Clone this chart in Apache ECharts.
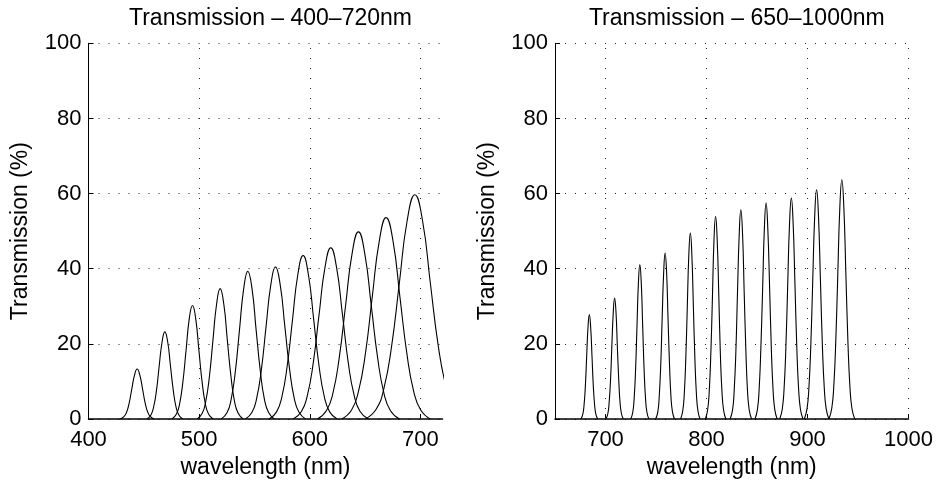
<!DOCTYPE html>
<html>
<head>
<meta charset="utf-8">
<script src="https://cdn.jsdelivr.net/npm/echarts@6/dist/echarts.min.js"></script>
<style>
html,body{margin:0;padding:0;background:#fff;}
#chart{width:936px;height:484px;}
</style>
</head>
<body>
<div id="chart"></div>
<script>
// ---- data ----
const leftTitle = 'Transmission – 400–720nm';
const rightTitle = 'Transmission – 650–1000nm';
const xName = 'wavelength (nm)';
const yName = 'Transmission (%)';

const leftXTicks = [400, 500, 600, 700];
const rightXTicks = [700, 800, 900, 1000];
const yTicks = [0, 20, 40, 60, 80, 100];

// left panel: 11 filter curves, wavelength (nm) / transmission (%) pairs
const leftWavelength = [
  [428.6, 432, 434.4, 436.8, 439.2, 441.6, 444, 446.4, 448.8, 451.2, 453.6, 456, 459.4],
  [452.7, 456.3, 458.8, 461.4, 463.9, 466.5, 469, 471.6, 474.1, 476.7, 479.2, 481.8, 485.3],
  [475.4, 479.5, 482.4, 485.3, 488.2, 491.1, 494, 496.9, 499.8, 502.7, 505.6, 508.5, 512.6],
  [498.2, 502.8, 506, 509.3, 512.5, 515.8, 519, 522.3, 525.5, 528.8, 532, 535.3, 539.8],
  [520, 525.3, 529, 532.8, 536.5, 540.3, 544, 547.8, 551.5, 555.3, 559, 562.8, 568],
  [541.8, 547.8, 552, 556.3, 560.5, 564.8, 569, 573.3, 577.5, 581.8, 586, 590.3, 596.2],
  [563.3, 570, 574.8, 579.6, 584.4, 589.2, 594, 598.8, 603.6, 608.4, 613.2, 618, 624.7],
  [585.1, 592.5, 597.8, 603.1, 608.4, 613.7, 619, 624.3, 629.6, 634.9, 640.2, 645.5, 652.9],
  [606.9, 615, 620.8, 626.6, 632.4, 638.2, 644, 649.8, 655.6, 661.4, 667.2, 673, 681.1],
  [629, 637.8, 644, 650.3, 656.5, 662.8, 669, 675.3, 681.5, 687.8, 694, 700.3, 709],
  [650.2, 660, 667, 674, 681, 688, 695, 702, 709, 716, 723, 730, 739.8]
];
const leftTransmission = [
  [0, 0.6, 1.8, 4.3, 8.1, 11.7, 13.3, 11.7, 8.1, 4.3, 1.8, 0.6, 0],
  [0, 1.0, 3.1, 7.5, 14.1, 20.5, 23.2, 20.5, 14.1, 7.5, 3.1, 1.0, 0],
  [0, 1.3, 4.1, 9.8, 18.3, 26.7, 30.2, 26.7, 18.3, 9.8, 4.1, 1.3, 0],
  [0, 1.5, 4.7, 11.3, 21.0, 30.6, 34.7, 30.6, 21.0, 11.3, 4.7, 1.5, 0],
  [0, 1.7, 5.3, 12.8, 23.8, 34.7, 39.3, 34.7, 23.8, 12.8, 5.3, 1.7, 0],
  [0, 1.8, 5.5, 13.2, 24.6, 35.7, 40.5, 35.7, 24.6, 13.2, 5.5, 1.8, 0],
  [0, 1.9, 5.9, 14.1, 26.4, 38.4, 43.5, 38.4, 26.4, 14.1, 5.9, 1.9, 0],
  [0, 2.0, 6.2, 14.8, 27.7, 40.2, 45.6, 40.2, 27.7, 14.8, 6.2, 2.0, 0],
  [0, 2.2, 6.7, 16.2, 30.2, 43.9, 49.8, 43.9, 30.2, 16.2, 6.7, 2.2, 0],
  [0, 2.4, 7.3, 17.4, 32.5, 47.3, 53.6, 47.3, 32.5, 17.4, 7.3, 2.4, 0],
  [0, 2.6, 8.1, 19.4, 36.2, 52.7, 59.7, 52.7, 36.2, 19.8, 8.8, 2.8, 0]
];

// right panel: 11 filter curves
const rightWavelength = [
  [675.7, 677.5, 678.8, 680.1, 681.4, 682.7, 684, 685.3, 686.6, 687.9, 689.2, 690.5, 692.3],
  [700.4, 702.3, 703.6, 705, 706.3, 707.7, 709, 710.4, 711.7, 713.1, 714.4, 715.8, 717.6],
  [725, 727, 728.4, 729.8, 731.2, 732.6, 734, 735.4, 736.8, 738.2, 739.6, 741, 743],
  [749.7, 751.8, 753.2, 754.7, 756.1, 757.6, 759, 760.5, 761.9, 763.4, 764.8, 766.3, 768.3],
  [774.4, 776.5, 778, 779.5, 781, 782.5, 784, 785.5, 787, 788.5, 790, 791.5, 793.6],
  [798.9, 801.1, 802.7, 804.3, 805.9, 807.4, 809, 810.6, 812.2, 813.7, 815.3, 816.9, 819.1],
  [823.4, 825.8, 827.4, 829.1, 830.7, 832.4, 834, 835.7, 837.3, 839, 840.6, 842.3, 844.6],
  [848, 850.4, 852.1, 853.8, 855.6, 857.3, 859, 860.7, 862.5, 864.2, 865.9, 867.6, 870],
  [872.5, 875, 876.8, 878.6, 880.4, 882.2, 884, 885.8, 887.6, 889.4, 891.2, 893, 895.5],
  [896.8, 899.5, 901.4, 903.3, 905.2, 907.1, 909, 910.9, 912.8, 914.7, 916.6, 918.5, 921.2],
  [921.2, 924, 926, 928, 930, 932, 934, 936, 938, 940, 942, 944, 946.8]
];
const rightTransmission = [
  [0, 1.2, 3.8, 9.0, 16.9, 24.5, 27.8, 24.5, 16.9, 9.0, 3.8, 1.2, 0],
  [0, 1.4, 4.4, 10.5, 19.5, 28.4, 32.2, 28.4, 19.5, 10.5, 4.4, 1.4, 0],
  [0, 1.8, 5.6, 13.3, 24.9, 36.3, 41.1, 36.3, 24.9, 13.3, 5.6, 1.8, 0],
  [0, 1.9, 6.0, 14.4, 26.8, 39.0, 44.2, 39.0, 26.8, 14.4, 6.0, 1.9, 0],
  [0, 2.2, 6.7, 16.1, 30.0, 43.7, 49.5, 43.7, 30.0, 16.1, 6.7, 2.2, 0],
  [0, 2.4, 7.3, 17.5, 32.7, 47.6, 53.9, 47.6, 32.7, 17.5, 7.3, 2.4, 0],
  [0, 2.4, 7.5, 18.1, 33.8, 49.2, 55.7, 49.2, 33.8, 18.1, 7.5, 2.4, 0],
  [0, 2.5, 7.8, 18.7, 34.9, 50.7, 57.5, 50.7, 34.9, 18.7, 7.8, 2.5, 0],
  [0, 2.6, 8.0, 19.1, 35.7, 51.9, 58.8, 51.9, 35.7, 19.1, 8.0, 2.6, 0],
  [0, 2.7, 8.3, 19.8, 37.0, 53.8, 61.0, 53.8, 37.0, 19.8, 8.3, 2.7, 0],
  [0, 2.8, 8.6, 20.7, 38.6, 56.2, 63.7, 56.2, 38.6, 20.7, 8.6, 2.8, 0]
];

// ---- chart ----
const FONT = '"Liberation Sans", Arial, Helvetica, sans-serif';
const TICK_FS = 22;
const LABEL_FS = 23;
const TITLE_FS = 23;
const dotted = { color: '#222', width: 1, type: [1, 9] };

function xAxisCfg(grid, min, max, ticks) {
  return {
    gridIndex: grid, type: 'value', min: min, max: max,
    name: xName, nameLocation: 'middle', nameGap: 37,
    nameTextStyle: { fontFamily: FONT, fontSize: LABEL_FS, color: '#000' },
    axisLine: { show: true, onZero: false, lineStyle: { color: '#000', width: 1.5 } },
    axisTick: { show: true, inside: true, length: 5, customValues: ticks, lineStyle: { color: '#000', width: 1 } },
    axisLabel: { show: true, margin: 10, customValues: ticks, fontFamily: FONT, fontSize: TICK_FS, color: '#000',
      formatter: v => String(v) },
    splitLine: { show: false }
  };
}
function yAxisCfg(grid) {
  return {
    gridIndex: grid, type: 'value', min: 0, max: 100, interval: 20,
    name: yName, nameLocation: 'middle', nameGap: 56,
    nameTextStyle: { fontFamily: FONT, fontSize: LABEL_FS, color: '#000' },
    axisLine: { show: true, lineStyle: { color: '#000', width: 1 } },
    axisTick: { show: true, inside: true, length: 5, customValues: yTicks, lineStyle: { color: '#000', width: 1 } },
    axisLabel: { margin: 7, customValues: yTicks, fontFamily: FONT, fontSize: TICK_FS, color: '#000', formatter: v => String(v) },
    splitLine: { show: true, lineStyle: dotted }
  };
}

const series = [];
function addCurves(wls, ts, idx, ticks) {
  wls.forEach((wl, i) => {
    const s = {
      type: 'line', xAxisIndex: idx, yAxisIndex: idx,
      data: wl.map((w, j) => [w, ts[i][j]]),
      smooth: 0.5, symbol: 'none', clip: true, silent: true,
      lineStyle: { color: '#000', width: 1.1 },
      z: 3
    };
    if (i === 0) {
      s.markLine = {
        silent: true, symbol: ['none', 'none'], label: { show: false },
        lineStyle: dotted, animation: false,
        emphasis: { disabled: true },
        data: ticks.map(v => ({ xAxis: v }))
      };
    }
    series.push(s);
  });
}
addCurves(leftWavelength, leftTransmission, 0, leftXTicks.slice(1));
addCurves(rightWavelength, rightTransmission, 1, rightXTicks);

const option = {
  animation: false,
  backgroundColor: '#fff',
  title: [
    { text: leftTitle, left: 265.5, top: 2, textAlign: 'center',
      textStyle: { fontFamily: FONT, fontSize: TITLE_FS, fontWeight: 'normal', color: '#000' } },
    { text: rightTitle, left: 731.8, top: 2, textAlign: 'center',
      textStyle: { fontFamily: FONT, fontSize: TITLE_FS, fontWeight: 'normal', color: '#000' } }
  ],
  grid: [
    { left: 88.5, top: 43.3, width: 354, height: 376.2, containLabel: false },
    { left: 555, top: 43.3, width: 353.5, height: 376.2, containLabel: false }
  ],
  xAxis: [
    xAxisCfg(0, 400, 720, leftXTicks),
    xAxisCfg(1, 650, 1000, rightXTicks)
  ],
  yAxis: [yAxisCfg(0), yAxisCfg(1)],
  series: series
};

const chart = echarts.init(document.getElementById('chart'), null, { renderer: 'canvas' });
chart.setOption(option);
</script>
</body>
</html>
